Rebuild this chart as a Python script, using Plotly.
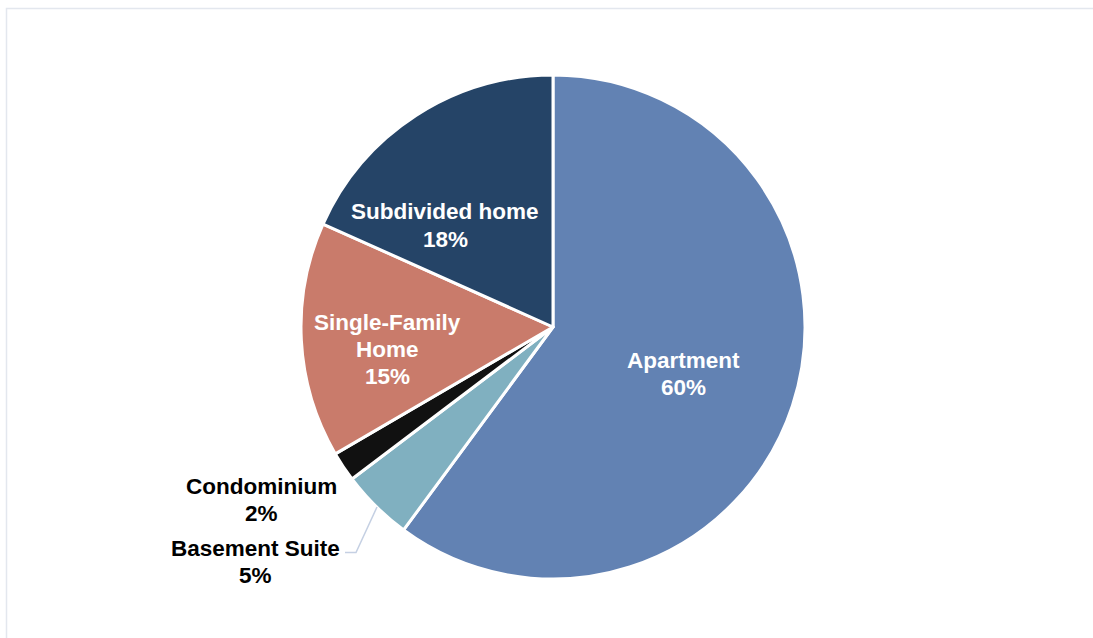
import plotly.graph_objects as go

categories = ["Apartment", "Basement Suite", "Condominium", "Single-Family Home", "Subdivided home"]
label_lines = [["Apartment"], ["Basement Suite"], ["Condominium"], ["Single-Family", "Home"], ["Subdivided home"]]
values = [60.1, 4.6, 1.9, 15.1, 18.3]
colors = ["#6282b3", "#80b0c0", "#111111", "#c97b6b", "#254467"]
text_colors = ["#ffffff", "#000000", "#000000", "#ffffff", "#ffffff"]
# label block centres in pixels (x, y of first line)
label_pos = [(683, 360), (255, 548), (261, 486), (387, 322), (445, 212)]
LINE_STEP = 27

W, H = 1093, 638
FONT = "Liberation Sans, Arial, sans-serif"

fig = go.Figure()
fig.add_trace(go.Pie(
    labels=categories,
    values=values,
    sort=False,
    direction="clockwise",
    rotation=0,
    marker=dict(colors=colors, line=dict(color="#ffffff", width=3)),
    textinfo="none",
    hoverinfo="label+percent",
    showlegend=False,
    domain=dict(x=[301 / W, 805 / W], y=[(H - 579) / H, (H - 75) / H]),
))

total = sum(values)
annotations = []
for lines, v, tc, (px, py) in zip(label_lines, values, text_colors, label_pos):
    all_lines = lines + [f"{round(v / total * 100)}%"]
    for i, t in enumerate(all_lines):
        annotations.append(dict(
            x=px / W, y=(H - (py + i * LINE_STEP)) / H, xref="paper", yref="paper",
            text=f"<b>{t}</b>",
            showarrow=False, xanchor="center", yanchor="middle",
            font=dict(family=FONT, size=22.5, color=tc), align="center",
        ))

shapes = [
    dict(type="rect", xref="paper", yref="paper",
         x0=6.5 / W, x1=1.02, y0=-0.02, y1=(H - 8.5) / H,
         line=dict(color="#e3e7ee", width=1.5), fillcolor="rgba(0,0,0,0)", layer="below"),
    dict(type="path", xref="paper", yref="paper",
         path=f"M {345 / W},{(H - 552.5) / H} L {356 / W},{(H - 552.5) / H} L {377 / W},{(H - 507) / H}",
         line=dict(color="#c5d0e3", width=1.5)),
]

fig.update_layout(
    width=W, height=H,
    margin=dict(l=0, r=0, t=0, b=0),
    paper_bgcolor="#ffffff", plot_bgcolor="#ffffff",
    annotations=annotations, shapes=shapes,
    font=dict(family=FONT),
)

fig.write_html(
    "out.html",
    config={"displayModeBar": False},
    post_script="document.body.style.margin='0';document.body.style.overflow='hidden';",
)
